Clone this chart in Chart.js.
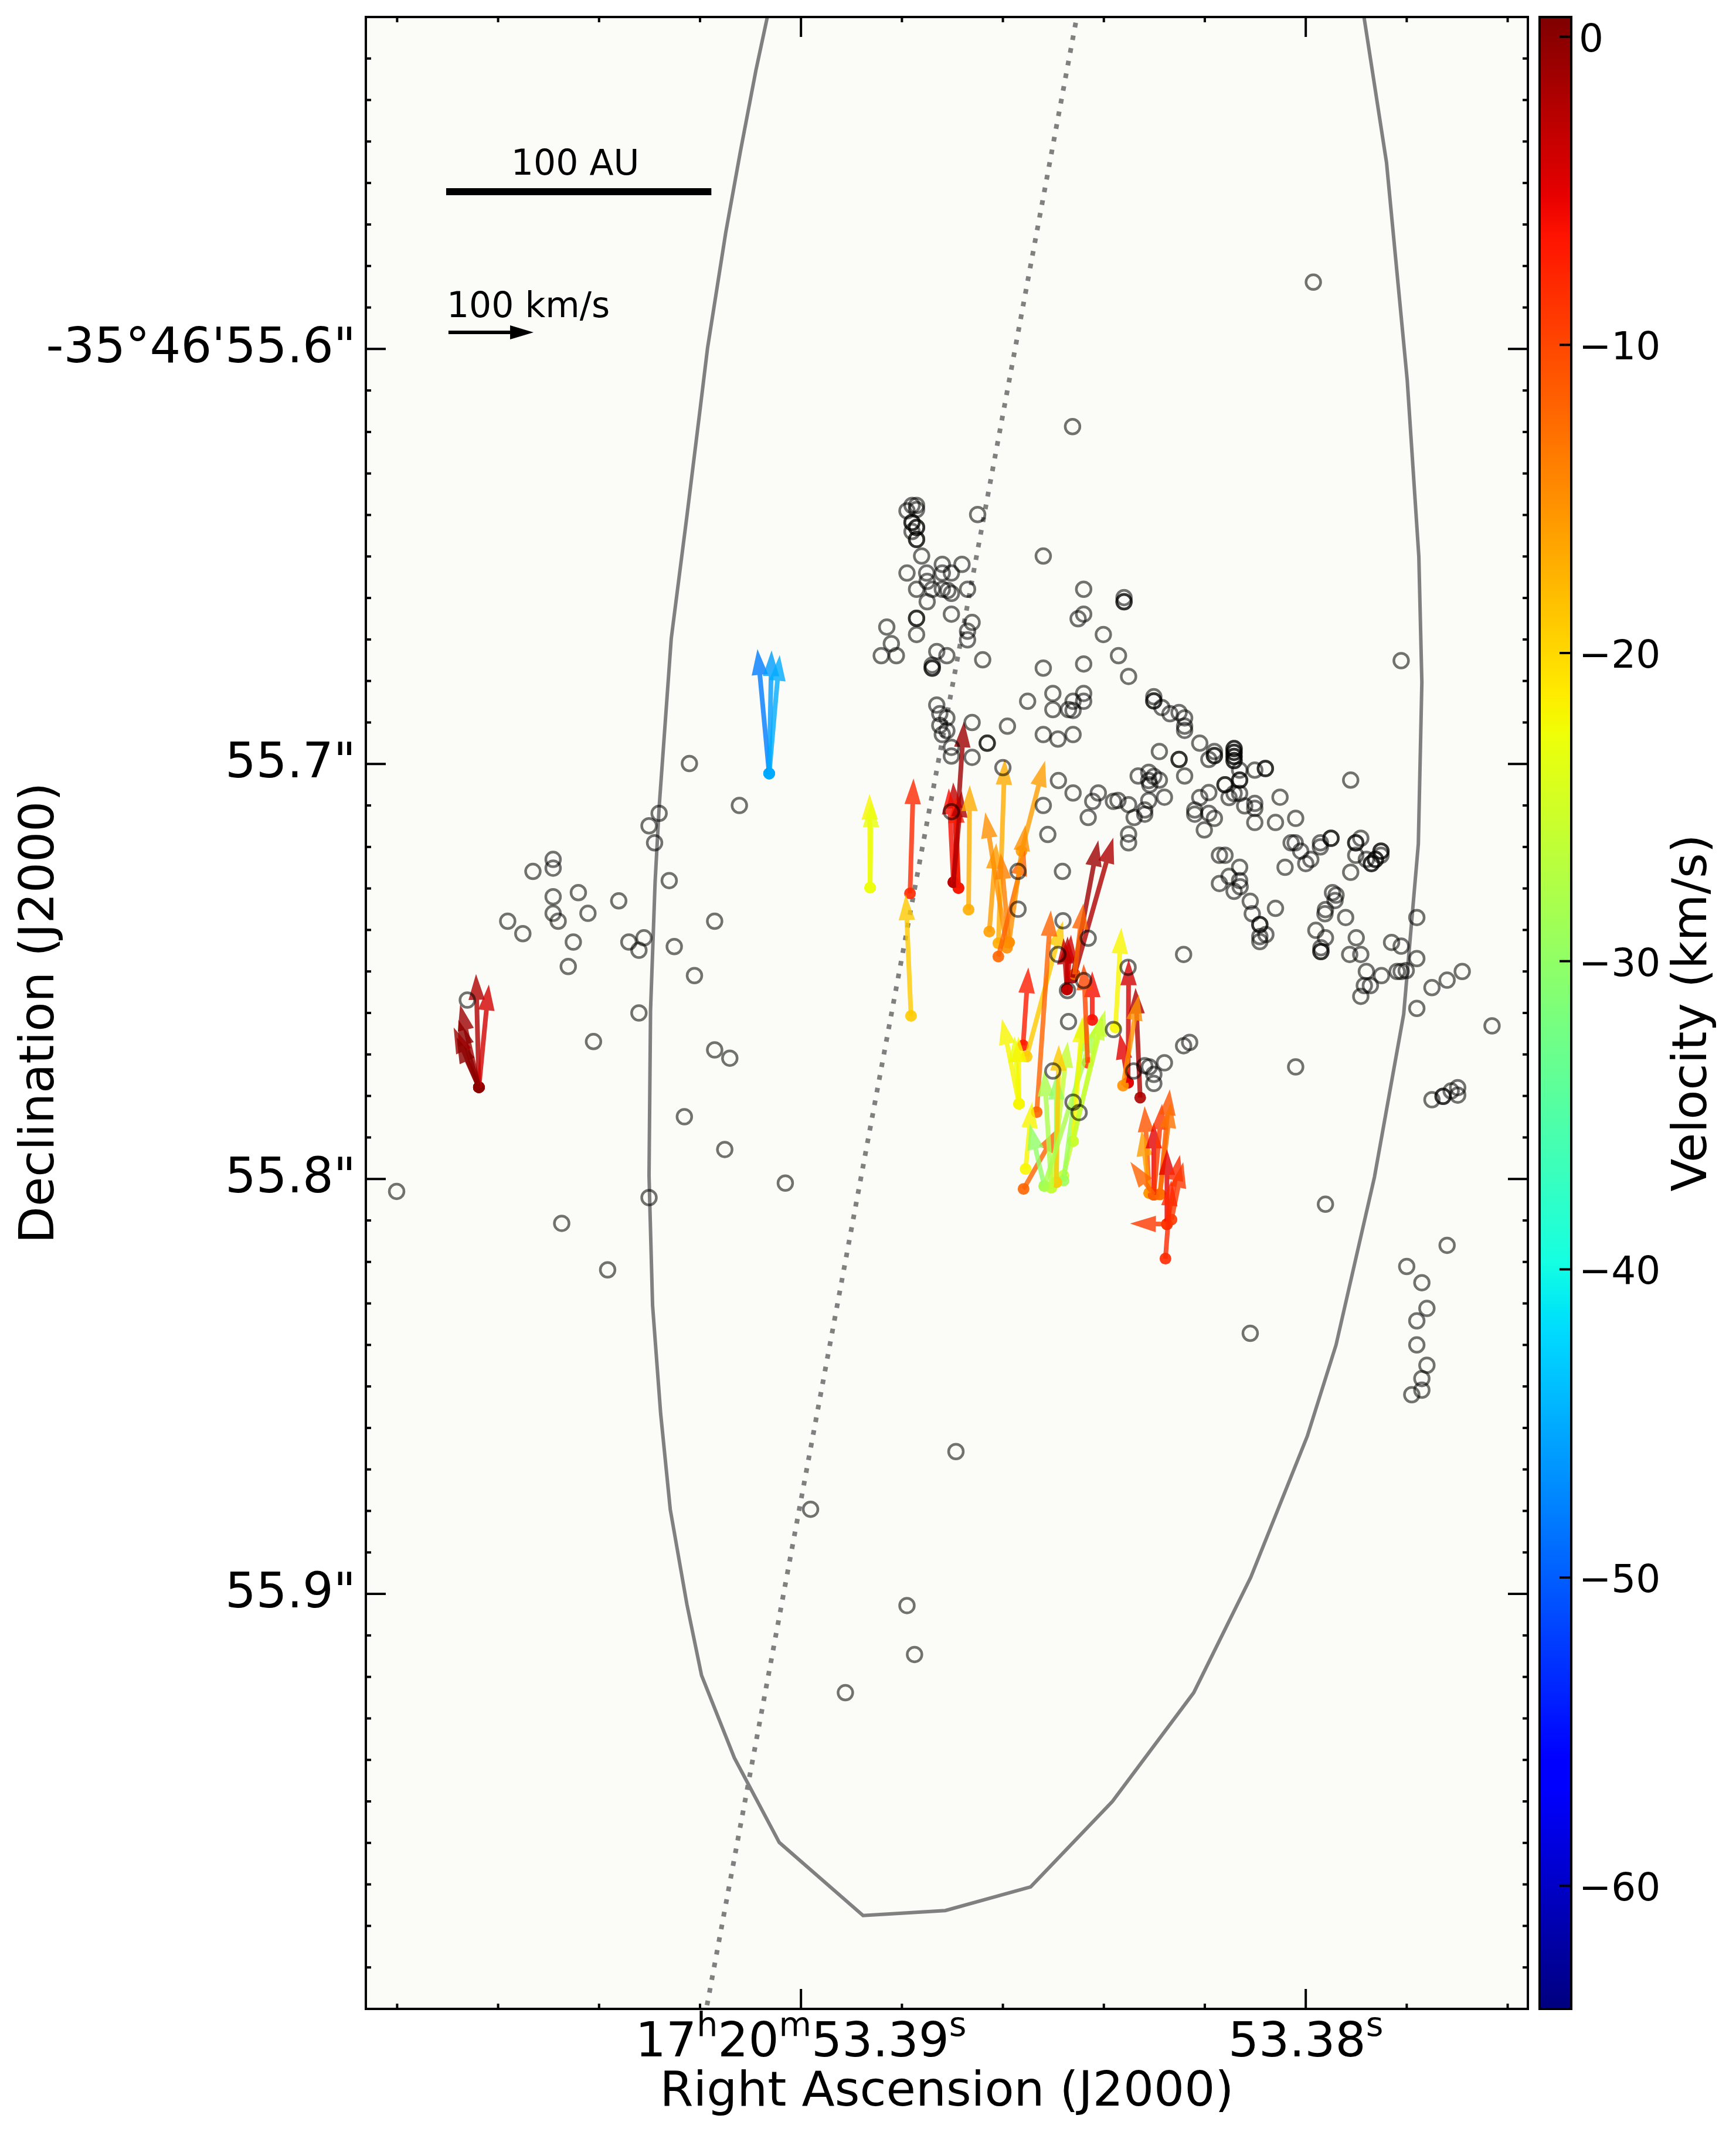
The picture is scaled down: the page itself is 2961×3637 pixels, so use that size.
<!DOCTYPE html>
<html><head><meta charset="utf-8">
<script src="https://cdn.jsdelivr.net/npm/chart.js"></script>
<style>html,body{margin:0;padding:0;background:#fff}canvas{display:block}</style>
</head><body>
<canvas id="c" width="2961" height="3637" style="width:2961px;height:3637px"></canvas>
<script>
// ---------------- DATA ----------------
// Axis ranges (RA in seconds of 17h20m, Dec in arcsec of -35°46')
const RA_RANGE = [53.3756, 53.39862];
const DEC_RANGE = [55.52, 56.00];
const VMIN = -64.0, VMAX = 0.64;               // colour bar range (km/s)

const xMajorTicks = [53.39, 53.38];
const xTickLabels = ['17^h20^m53.39^s', '53.38^s'];
const xMinorTicks = [53.398, 53.396, 53.394, 53.392, 53.388, 53.386, 53.384, 53.382, 53.378, 53.376];
const yMajorTicks = [55.6, 55.7, 55.8, 55.9];
const yTickLabels = ['-35°46\'55.6"', '55.7"', '55.8"', '55.9"'];
const cbTicks = [0, -10, -20, -30, -40, -50, -60];
const cbTickLabels = ['0', '\u221210', '\u221220', '\u221230', '\u221240', '\u221250', '\u221260'];

// Maser spots (grey open circles), several groups
const maserRA_A = [
53.38790,53.38780,53.38771,53.38771,53.38780,53.38780,53.38771,53.38771,53.38780,53.38771,
53.38771,53.38650,53.38761,53.38790,53.38751,53.38720,53.38681,53.38720,53.38702,53.38750,
53.38771,53.38740,53.38720,53.38709,53.38702,53.38670,53.38750,53.38771,53.38771,53.38702,
53.38661,53.38670,53.38670,53.38830,53.38771,53.38821,53.38841,53.38811,53.38731,53.38711,
53.38740,53.38740,53.38740,53.38640,53.38520,53.38440,53.38360,53.38360,53.38360,53.38440,
53.38451,53.38401,53.38371,53.38440,53.38520,53.38351,53.38501,53.38551,53.38501,53.38470,
53.38461,53.38440,53.38440,53.38461,53.38591,53.38520,53.38491,53.38461,53.38631,53.38631,
53.38661,53.38731,53.38725,53.38711,53.38725,53.38711,53.38720,53.38702,53.38702,53.38661,
53.38462,53.37985];
const maserDec_A = [
55.6390,55.6377,55.6377,55.6387,55.6418,55.6418,55.6430,55.6430,55.6440,55.6459,
55.6459,55.6399,55.6499,55.6540,55.6540,55.6519,55.6519,55.6540,55.6540,55.6560,
55.6579,55.6579,55.6579,55.6582,55.6589,55.6579,55.6609,55.6649,55.6649,55.6639,
55.6659,55.6680,55.6701,55.6670,55.6688,55.6710,55.6739,55.6739,55.6729,55.6739,
55.6762,55.6769,55.6769,55.6749,55.6499,55.6579,55.6599,55.6609,55.6609,55.6639,
55.6650,55.6688,55.6739,55.6759,55.6769,55.6789,55.6830,55.6849,55.6869,55.6869,
55.6849,55.6830,55.6849,55.6871,55.6909,55.6929,55.6940,55.6929,55.6950,55.6950,
55.6900,55.6858,55.6879,55.6889,55.6907,55.6920,55.6929,55.6960,55.6981,55.6984,
55.6187,55.5839];
const maserRA_B = [
53.38301,53.38301,53.38301,53.38285,53.38269,53.38251,53.38240,53.38240,53.38240,53.38210,
53.38290,53.38251,53.38251,53.38181,53.38181,53.38181,53.38192,53.38142,53.38142,53.38142,
53.38142,53.38142,53.38142,53.38142,53.38142,53.38131,53.38101,53.38080,53.38080,53.38240,
53.38332,53.38311,53.38301,53.38311,53.38290,53.38309,53.38131,53.38131,53.38160,53.38160,
53.38192,53.38210,53.38142,53.38131,53.38152,53.38280,53.38311,53.38372,53.38351,53.38319,
53.38319,53.38340,53.38220,53.38220,53.38192,53.38181,53.38121,53.38101,53.38101,53.38051,
53.38101,53.38060,53.38020,53.38201,53.38351,53.38351,53.37911,53.37811,53.38029,53.38021,
53.38010,53.37990,53.38000,53.37971,53.37971,53.37950,53.37950,53.37901,53.37901,53.37891,
53.37901,53.37880,53.37870,53.37870,53.37851,53.37851,53.37851,53.37862,53.37862,53.37911,
53.38041,53.38171,53.38160,53.38131,53.38152,53.38131,53.38171];
const maserDec_B = [
55.6838,55.6848,55.6848,55.6864,55.6879,55.6876,55.6889,55.6909,55.6919,55.6950,
55.6970,55.6989,55.6989,55.6970,55.6980,55.6980,55.6989,55.6963,55.6963,55.6972,
55.6972,55.6982,55.6982,55.6992,55.6992,55.7015,55.7015,55.7011,55.7011,55.7029,
55.7029,55.7020,55.7030,55.7040,55.7039,55.7050,55.7039,55.7039,55.7050,55.7050,
55.7069,55.7081,55.7071,55.7071,55.7081,55.7080,55.7088,55.7088,55.7098,55.7111,
55.7121,55.7129,55.7111,55.7121,55.7119,55.7131,55.7101,55.7095,55.7107,55.7080,
55.7141,55.7141,55.7131,55.7159,55.7169,55.7190,55.7039,55.6751,55.7190,55.7190,
55.7210,55.7230,55.7240,55.7190,55.7200,55.7179,55.7179,55.7190,55.7190,55.7179,
55.7220,55.7230,55.7240,55.7240,55.7210,55.7210,55.7220,55.7230,55.7230,55.7261,
55.7249,55.7220,55.7220,55.7249,55.7271,55.7281,55.7288];
const maserRA_C = [
53.38130,53.38142,53.38110,53.38106,53.38091,53.38091,53.38091,53.38079,53.38091,53.38060,
53.37947,53.37940,53.37942,53.37961,53.37962,53.37921,53.37961,53.37980,53.37970,53.37970,
53.37970,53.37900,53.37913,53.37891,53.37880,53.37850,53.37872,53.37884,53.37891,53.37830,
53.37811,53.37780,53.37780,53.37819,53.37811,53.37801,53.37750,53.37720,53.37690,53.37780,
53.37631,53.37750,53.37728,53.37728,53.37712,53.37699,53.37699,53.38020,53.37961,53.38110,
53.37720,53.37800,53.37770,53.37760,53.37780,53.37780,53.37760,53.37770,53.37770,53.37790,
53.38242,53.38230,53.38242];
const maserDec_C = [
55.7296,55.7307,55.7331,55.7361,55.7387,55.7387,55.7416,55.7411,55.7428,55.7348,
55.7310,55.7316,55.7329,55.7351,55.7361,55.7370,55.7419,55.7401,55.7443,55.7452,
55.7452,55.7419,55.7459,55.7459,55.7500,55.7510,55.7534,55.7534,55.7560,55.7430,
55.7439,55.7370,55.7469,55.7500,55.7500,55.7498,55.7539,55.7521,55.7500,55.7589,
55.7631,55.7809,55.7801,55.7801,55.7788,55.7780,55.7798,55.7730,55.8061,55.8372,
55.8160,55.8211,55.8250,55.8312,55.8342,55.8400,55.8449,55.8481,55.8509,55.8520,
55.7459,55.7671,55.7679];
const maserRA_D = [
53.38600,53.38490,53.38461,53.38411,53.38422,53.38381,53.38431,53.38520,53.38511,53.38482,
53.38570,53.38570,53.38481,53.38431,53.38491,53.38352,53.38440,53.38472,53.38702];
const maserDec_D = [
55.7009,55.7040,55.7070,55.7070,55.7090,55.7090,55.7129,55.7100,55.7170,55.7259,
55.7259,55.7350,55.7378,55.7420,55.7459,55.7490,55.7522,55.7546,55.7115];
const maserRA_E = [53.38470,53.38381,53.38501,53.38341,53.38319,53.38310,53.38280,53.38301,53.38301,53.38461,53.38449];
const maserDec_E = [55.7621,55.7640,55.7740,55.7740,55.7727,55.7730,55.7720,55.7748,55.7770,55.7815,55.7840];
const maserRA_F = [
53.39221,53.39122,53.39281,53.39301,53.39290,53.39491,53.39491,53.39531,53.39261,53.39491,
53.39441,53.39361,53.39491,53.39481,53.39422,53.39581,53.39551,53.39451,53.39341,53.39311,
53.39321,53.39251,53.39171,53.39461,53.39211,53.39661,53.39321,53.39411,53.39171,53.39141,
53.39231,53.39151,53.39031,53.39301,53.39801];
const maserDec_F = [
55.6999,55.7100,55.7119,55.7149,55.7190,55.7230,55.7251,55.7259,55.7281,55.7320,
55.7310,55.7330,55.7360,55.7379,55.7360,55.7379,55.7409,55.7429,55.7429,55.7419,
55.7449,55.7440,55.7379,55.7488,55.7510,55.7569,55.7600,55.7669,55.7689,55.7709,
55.7850,55.7929,55.8010,55.8045,55.8030];
const maserRA_G = [53.39474,53.39383,53.38693,53.38981,53.38790,53.38775,53.38912];
const maserDec_G = [55.8107,55.8219,55.8657,55.8796,55.9028,55.9146,55.9238];

// Proper-motion vectors: start position, east / north velocity (km/s), line-of-sight velocity (km/s)
const arrowRA = [
53.39063,53.39063,53.39063,53.39638,53.39638,53.39638,53.39638,53.39638,53.39638,53.38863,
53.38863,53.38784,53.38782,53.38698,53.38688,53.38698,53.38688,53.38698,53.38668,53.38627,
53.38609,53.38592,53.38588,53.38609,53.38563,53.38588,53.38560,53.38553,53.38533,53.38568,
53.38568,53.38568,53.38555,53.38559,53.38518,53.38504,53.38504,53.38494,53.38480,53.38480,
53.38494,53.38518,53.38461,53.38461,53.38473,53.38473,53.38473,53.38462,53.38458,53.38458,
53.38423,53.38432,53.38377,53.38352,53.38352,53.38328,53.38362,53.38310,53.38310,53.38301,
53.38301,53.38289,53.38289,53.38301,53.38275,53.38275,53.38266,53.38275,53.38278];
const arrowDec = [
55.7023,55.7023,55.7023,55.7779,55.7779,55.7779,55.7779,55.7779,55.7779,55.7298,
55.7298,55.7312,55.7607,55.7285,55.7299,55.7285,55.7299,55.7285,55.7351,55.7404,
55.7432,55.7443,55.7430,55.7464,55.7210,55.7430,55.7678,55.7705,55.7839,55.7819,
55.7819,55.7819,55.7976,55.8024,55.8017,55.8021,55.8021,55.8008,55.7992,55.8004,
55.8008,55.8017,55.7909,55.7909,55.7543,55.7543,55.7543,55.7515,55.7507,55.7507,
55.7617,55.7720,55.7635,55.7768,55.7768,55.7804,55.7775,55.8034,55.8034,55.8038,
55.8038,55.8037,55.8037,55.8038,55.8109,55.8109,55.8098,55.8109,55.8192];
const arrowVE = [
13.8,-2.8,-12.4,3.4,-11.7,22.1,24.1,29.7,26.2,0.7,
-1.4,-4.1,6.2,-12.4,6.2,5.5,3.4,-9.7,-1.4,-8.3,
-7.6,25.5,9.7,-31.7,-27.6,-19.3,-6.2,-42.8,-16.6,20.0,
5.5,0.7,-7.6,-41.4,17.2,8.3,-19.3,0,-49.0,-26.2,
-2.8,-59.3,-11.0,-34.5,-0.7,-4.8,4.1,-30.3,-45.5,-10.3,
0,4.8,-6.9,-0.7,9.7,5.5,-18.6,5.5,9.0,0,
-9.7,-11.7,-13.1,27.6,0,-15.2,-13.8,43.4,-6.9];
const arrowVN = [
146.2,144.8,139.3,133.1,120.7,97.2,79.3,70.3,58.6,110.3,
101.4,135.2,142.8,189.0,124.1,110.3,106.9,106.9,146.2,104.1,
216.6,159.3,104.8,125.5,106.2,137.9,91.7,159.3,237.2,100.0,
79.3,79.3,78.6,72.4,73.1,137.9,171.7,127.6,194.5,196.6,
161.4,186.2,146.2,149.7,62.1,64.1,60.0,161.4,160.7,83.4,
57.2,115.9,117.2,144.8,57.9,129.0,106.9,102.1,73.8,84.8,
106.9,123.4,108.3,38.6,88.3,81.4,67.6,0.7,92.4];
const arrowVel = [
-48,-46,-45,-2,-4,-1,0,-1,0,-22,
-23,-8,-19,-1,-3,-6,-7,-2,-17,-16,
-17,-15,-14,-12,-16,-15,-7,-19,-12,-22,
-23,-22,-22,-12,-30,-28,-26,-30,-26,-29,
-19,-28,-22,-26,-2,-4,-3,-1,-2,-12,
-6,-10,-22,-4,-5,-2,-15,-11,-16,-5,
-9,-11,-13,-12,-5,-8,-9,-9,-8];

// Outflow cavity contour (grey line) and jet axis (dotted line)
const contourRA = [53.39058,53.39089,53.39120,53.39149,53.39185,53.39200,53.39226,53.39257,53.39281,53.39289,
53.39298,53.39301,53.39294,53.39278,53.39259,53.39226,53.39197,53.39132,53.39043,53.38877,
53.38714,53.38545,53.38383,53.38222,53.38109,53.37997,53.37940,53.37864,53.37806,53.37777,
53.37770,53.37776,53.37799,53.37840,53.37885,53.37890];
const contourDec = [55.5151,55.5327,55.5524,55.5719,55.5997,55.6147,55.6403,55.6698,55.7105,55.7285,
55.7594,55.7992,55.8304,55.8565,55.8796,55.9025,55.9196,55.9395,55.9599,55.9775,
55.9763,55.9706,55.9500,55.9238,55.8960,55.8620,55.8400,55.7996,55.7603,55.7193,
55.6803,55.6500,55.6075,55.5551,55.5197,55.5158];
const axisLineRA = [53.38423, 53.39218];
const axisLineDec = [55.50, 56.02];

// Scale references
const SCALE_BAR_ARCSEC = 0.0639;   // 100 AU
const SCALE_BAR_LABEL = '100 AU';
const KEY_VELOCITY = 100;          // km/s
const KEY_LABEL = '100 km/s';
const ARCSEC_PER_KMS = 2.05e-4;    // arrow length scale

// ---------------- HELPERS ----------------
const FAM = "'DejaVu Sans', 'Liberation Sans', sans-serif";
const BG = 'rgb(251,251,247)';
const COSD = Math.cos((35 + 46/60 + 55.75/3600) * Math.PI / 180);

function interp(pts, x) {
  for (let i = 0; i < pts.length - 1; i++) {
    const [x0, y0] = pts[i], [x1, y1] = pts[i + 1];
    if (x <= x1) return y0 + (y1 - y0) * (x - x0) / (x1 - x0);
  }
  return pts[pts.length - 1][1];
}
const JR = [[0,0],[0.35,0],[0.66,1],[0.89,1],[1,0.5]];
const JG = [[0,0],[0.125,0],[0.375,1],[0.64,1],[0.91,0],[1,0]];
const JB = [[0,0.5],[0.11,1],[0.34,1],[0.65,0],[1,0]];
function jetN(t, a) {
  t = Math.max(0, Math.min(1, t));
  return `rgba(${Math.round(255*interp(JR,t))},${Math.round(255*interp(JG,t))},${Math.round(255*interp(JB,t))},${a})`;
}
function jet(v, a) { return jetN((v - VMIN) / (VMAX - VMIN), a); }

function concat(...arrs) { return [].concat(...arrs); }
const maserRA = concat(maserRA_A, maserRA_B, maserRA_C, maserRA_D, maserRA_E, maserRA_F, maserRA_G);
const maserDec = concat(maserDec_A, maserDec_B, maserDec_C, maserDec_D, maserDec_E, maserDec_F, maserDec_G);

function arrowEnd(i) {
  return {
    x: arrowRA[i] + arrowVE[i] * ARCSEC_PER_KMS / (15 * COSD),
    y: arrowDec[i] - arrowVN[i] * ARCSEC_PER_KMS
  };
}

function drawArrow(ctx, x0, y0, x1, y1, color, shaftW, headW, headL) {
  const dx = x1 - x0, dy = y1 - y0, L = Math.hypot(dx, dy);
  if (L < 1) return;
  const ux = dx / L, uy = dy / L, nx = -uy, ny = ux;
  let hl = headL, hw = headW / 2, sw = shaftW / 2;
  if (L < hl) { const k = L / hl; hl = L; hw *= k; }
  const bx = x1 - ux * hl, by = y1 - uy * hl;
  ctx.beginPath();
  ctx.moveTo(x0 + nx * sw, y0 + ny * sw);
  ctx.lineTo(bx + nx * sw, by + ny * sw);
  ctx.lineTo(bx + nx * hw, by + ny * hw);
  ctx.lineTo(x1, y1);
  ctx.lineTo(bx - nx * hw, by - ny * hw);
  ctx.lineTo(bx - nx * sw, by - ny * sw);
  ctx.lineTo(x0 - nx * sw, y0 - ny * sw);
  ctx.closePath();
  ctx.fillStyle = color;
  ctx.fill();
}

function drawSup(ctx, spec, cx, baseline, size, supSize, raise) {
  const parts = []; let buf = '';
  for (let k = 0; k < spec.length; k++) {
    if (spec[k] === '^') { if (buf) parts.push({t: buf, s: false}); buf = ''; parts.push({t: spec[k+1], s: true}); k++; }
    else buf += spec[k];
  }
  if (buf) parts.push({t: buf, s: false});
  let total = 0;
  for (const p of parts) { ctx.font = `${p.s ? supSize : size}px ${FAM}`; p.w = ctx.measureText(p.t).width; total += p.w; }
  let x = cx - total / 2;
  ctx.textAlign = 'left';
  for (const p of parts) {
    ctx.font = `${p.s ? supSize : size}px ${FAM}`;
    ctx.fillText(p.t, x, p.s ? baseline - raise : baseline);
    x += p.w;
  }
}

// ---------------- PLUGINS ----------------
const bgPlugin = {
  id: 'bg',
  beforeDraw(chart) {
    const {ctx, chartArea: ca} = chart;
    ctx.save();
    ctx.fillStyle = '#fff';
    ctx.fillRect(0, 0, chart.width, chart.height);
    ctx.fillStyle = BG;
    ctx.fillRect(ca.left, ca.top, ca.right - ca.left, ca.bottom - ca.top);
    ctx.restore();
  }
};

const arrowPlugin = {
  id: 'arrows',
  afterDatasetDraw(chart, args) {
    if (args.index !== 2) return;
    const {ctx, chartArea: ca, scales: {x, y}} = chart;
    ctx.save();
    ctx.beginPath();
    ctx.rect(ca.left, ca.top, ca.right - ca.left, ca.bottom - ca.top);
    ctx.clip();
    for (let i = 0; i < arrowRA.length; i++) {
      const e = arrowEnd(i);
      drawArrow(ctx, x.getPixelForValue(arrowRA[i]), y.getPixelForValue(arrowDec[i]),
        x.getPixelForValue(e.x), y.getPixelForValue(e.y), jet(arrowVel[i], 0.8), 8, 28, 44);
    }
    ctx.restore();
  }
};

const decorPlugin = {
  id: 'decor',
  afterDraw(chart) {
    const {ctx, chartArea: ca, scales: {x, y, cb}} = chart;
    const W = ca.right - ca.left, H = ca.bottom - ca.top;
    ctx.save();
    ctx.strokeStyle = '#000';
    ctx.fillStyle = '#000';
    ctx.lineCap = 'butt';
    const line = (x1, y1, x2, y2) => { ctx.beginPath(); ctx.moveTo(x1, y1); ctx.lineTo(x2, y2); ctx.stroke(); };
    const MAJ = 34, MIN = 9;
    ctx.lineWidth = 4;
    for (const v of xMinorTicks) { const p = x.getPixelForValue(v); line(p, ca.bottom, p, ca.bottom - MIN); line(p, ca.top, p, ca.top + MIN); }
    for (const v of xMajorTicks) { const p = x.getPixelForValue(v); line(p, ca.bottom, p, ca.bottom - MAJ); line(p, ca.top, p, ca.top + MAJ); }
    for (let k = 53; k <= 99; k++) {
      const v = 55 + k / 100;
      if (k % 10 === 0) continue;
      const p = y.getPixelForValue(v);
      line(ca.left, p, ca.left + MIN, p); line(ca.right, p, ca.right - MIN, p);
    }
    for (const v of yMajorTicks) { const p = y.getPixelForValue(v); line(ca.left, p, ca.left + MAJ, p); line(ca.right, p, ca.right - MAJ, p); }
    // frame
    ctx.strokeRect(ca.left, ca.top, W, H);

    // tick labels
    ctx.textBaseline = 'alphabetic';
    xMajorTicks.forEach((v, i) => drawSup(ctx, xTickLabels[i], x.getPixelForValue(v), ca.bottom + 81, 82, 57, 35));
    ctx.font = `83px ${FAM}`;
    ctx.textAlign = 'right';
    yMajorTicks.forEach((v, i) => ctx.fillText(yTickLabels[i], ca.left - 17, y.getPixelForValue(v) + 23));

    // axis titles
    ctx.font = `82px ${FAM}`;
    ctx.textAlign = 'center';
    ctx.fillText('Right Ascension (J2000)', (ca.left + ca.right) / 2, chart.height - 45);
    ctx.save();
    ctx.translate(91, (ca.top + ca.bottom) / 2);
    ctx.rotate(-Math.PI / 2);
    ctx.fillText('Declination (J2000)', 0, 0);
    ctx.restore();

    // scale bar (100 AU)
    const barL = ca.left + 0.0691 * W, barY = ca.top + 0.0877 * H;
    const barLen = Math.abs(y.getPixelForValue(55.6 + SCALE_BAR_ARCSEC) - y.getPixelForValue(55.6));
    ctx.fillRect(barL, barY - 6, barLen, 12);
    ctx.font = `60px ${FAM}`;
    ctx.textAlign = 'center';
    ctx.fillText(SCALE_BAR_LABEL, barL + barLen / 2 - 6, barY - 29);

    // velocity key arrow
    const kL = ca.left + 0.0711 * W, kY = ca.top + 0.1583 * H;
    const kLen = Math.abs(y.getPixelForValue(55.6 + KEY_VELOCITY * ARCSEC_PER_KMS) - y.getPixelForValue(55.6));
    drawArrow(ctx, kL, kY, kL + kLen, kY, '#000', 6, 24, 40);
    ctx.textAlign = 'left';
    ctx.fillText(KEY_LABEL, kL - 3, kY - 26);

    // colour bar
    const cL = ca.right + 20, cW = 54;
    const g = ctx.createLinearGradient(0, ca.bottom, 0, ca.top);
    for (let i = 0; i <= 200; i++) g.addColorStop(i / 200, jetN(i / 200, 1));
    ctx.fillStyle = g;
    ctx.fillRect(cL, ca.top, cW, H);
    ctx.fillStyle = '#000';
    ctx.lineWidth = 4;
    for (const v of cbTicks) { const p = cb.getPixelForValue(v); line(cL + cW, p, cL + cW - 20, p); }
    ctx.strokeRect(cL, ca.top, cW, H);
    ctx.font = `66px ${FAM}`;
    ctx.textAlign = 'left';
    cbTicks.forEach((v, i) => ctx.fillText(cbTickLabels[i], cL + cW + 13, cb.getPixelForValue(v) + 25));
    ctx.font = `82px ${FAM}`;
    ctx.textAlign = 'center';
    ctx.save();
    ctx.translate(2910, (ca.top + ca.bottom) / 2);
    ctx.rotate(-Math.PI / 2);
    ctx.fillText('Velocity (km/s)', 0, 0);
    ctx.restore();
    ctx.restore();
  }
};

// ---------------- CHART ----------------
const contourPts = contourRA.map((r, i) => ({x: r, y: contourDec[i]}));
const axisPts = axisLineRA.map((r, i) => ({x: r, y: axisLineDec[i]}));
const dotPts = arrowRA.map((r, i) => ({x: r, y: arrowDec[i]}));
const maserPts = maserRA.map((r, i) => ({x: r, y: maserDec[i]}));

new Chart(document.getElementById('c'), {
  type: 'scatter',
  data: {
    datasets: [
      {label: 'cavity', data: contourPts, showLine: true, borderColor: '#808080', borderWidth: 6,
       pointRadius: 0, tension: 0, fill: false, clip: 0, order: 5},
      {label: 'axis', data: axisPts, showLine: true, borderColor: '#808080', borderWidth: 8,
       borderDash: [8, 14], borderCapStyle: 'butt', pointRadius: 0, fill: false, clip: 0, order: 4},
      {label: 'vectors', data: dotPts, pointRadius: 10, pointBorderWidth: 0, borderWidth: 0,
       pointBackgroundColor: arrowVel.map(v => jet(v, 0.9)), clip: 0, order: 3},
      {label: 'masers', data: maserPts, pointRadius: 12.5, pointBorderWidth: 4.5, borderWidth: 4.5,
       pointBorderColor: 'rgba(0,0,0,0.55)', pointBackgroundColor: 'rgba(0,0,0,0)', clip: 0, order: 1}
    ]
  },
  options: {
    responsive: false, animation: false, devicePixelRatio: 1, events: [],
    layout: {padding: {left: 624, right: 355, top: 29, bottom: 210}},
    plugins: {legend: {display: false}, tooltip: {enabled: false}},
    scales: {
      x: {type: 'linear', display: false, reverse: true, min: RA_RANGE[0], max: RA_RANGE[1]},
      y: {type: 'linear', display: false, reverse: true, min: DEC_RANGE[0], max: DEC_RANGE[1]},
      cb: {type: 'linear', axis: 'y', display: false, min: VMIN, max: VMAX}
    }
  },
  plugins: [bgPlugin, arrowPlugin, decorPlugin]
});
</script>
</body></html>
